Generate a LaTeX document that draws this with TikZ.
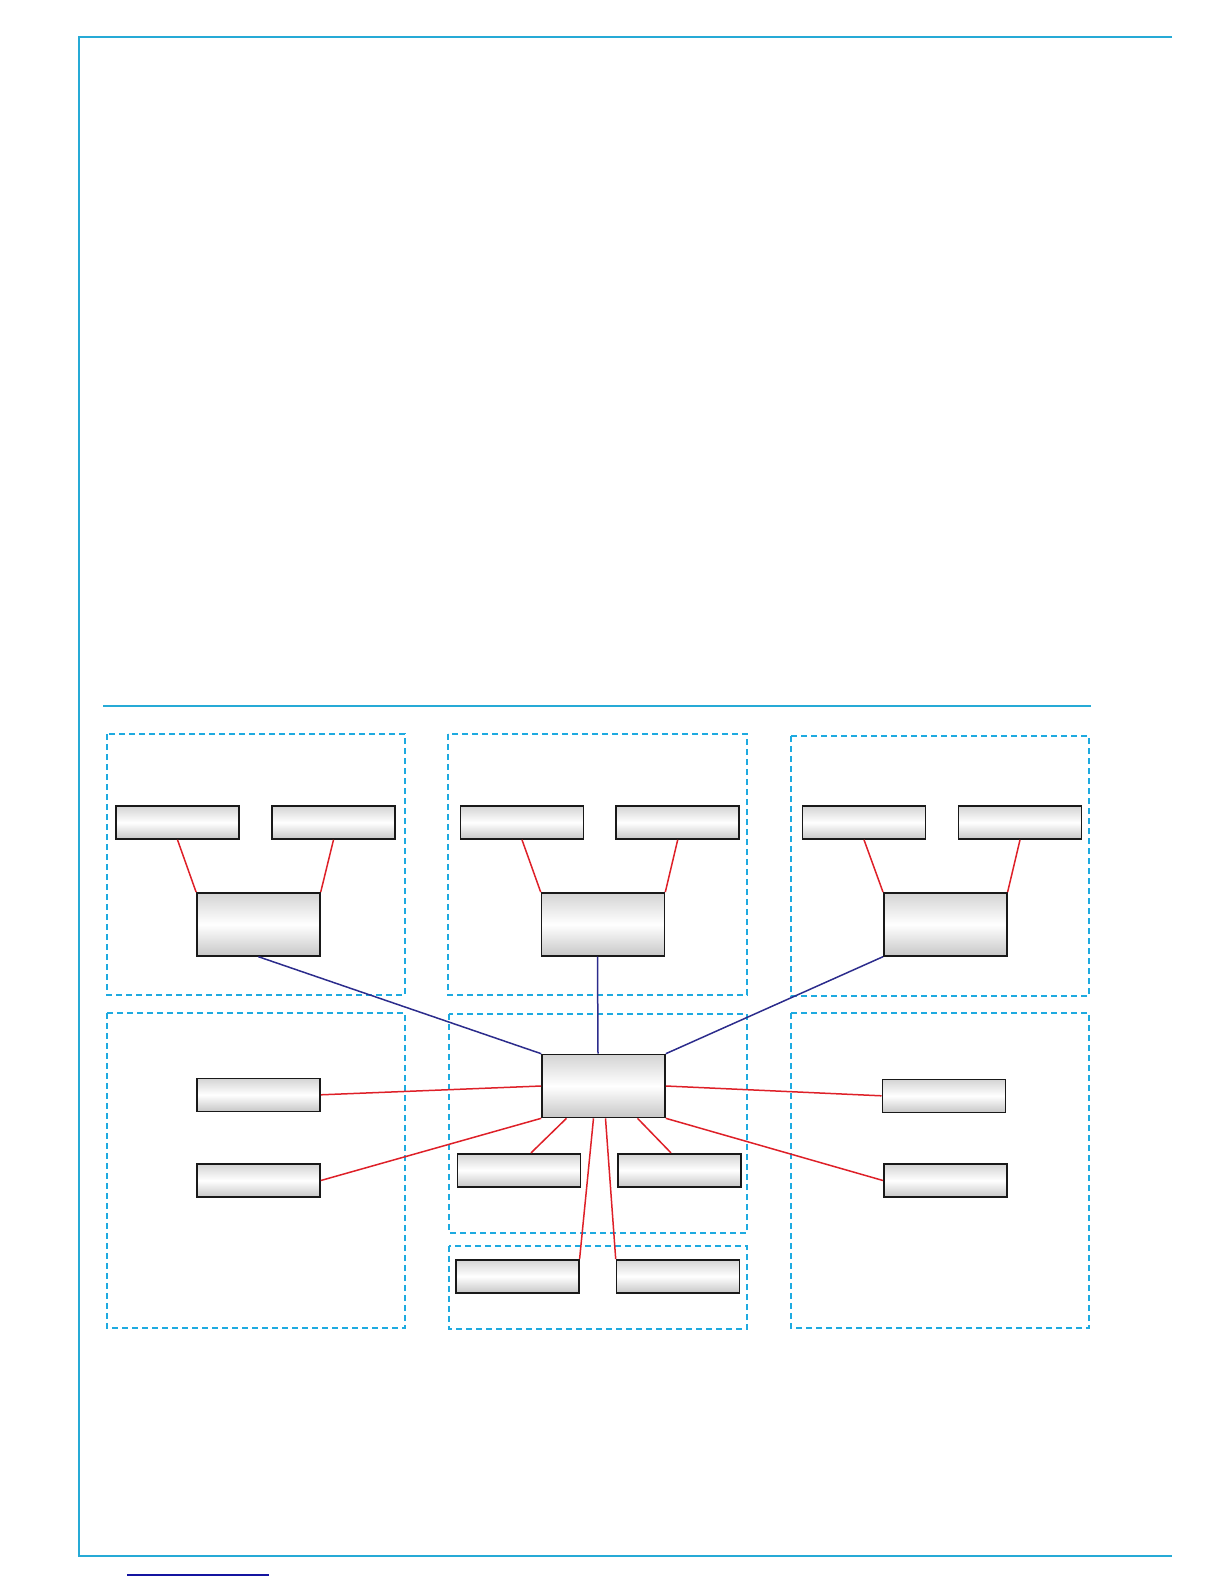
\documentclass[tikz,border=0pt]{standalone}
\usepackage{tikz}
\usepackage{xcolor}
\usetikzlibrary{calc}
\definecolor{framecyan}{RGB}{38,170,214}
\definecolor{zonecyan}{RGB}{30,170,224}
\definecolor{linkred}{RGB}{222,32,40}
\definecolor{linknavy}{RGB}{44,44,140}
\definecolor{underblue}{RGB}{20,20,160}
\tikzset{
  box/.style={draw=black!90,line width=1.6pt,top color=black!17,bottom color=black!22,middle color=white,minimum width=123pt,minimum height=33pt,inner sep=0pt},
  bigbox/.style={box,minimum height=63pt},
  zone/.style={draw=zonecyan,line width=1.4pt,dash pattern=on 6pt off 4pt},
  redlink/.style={draw=linkred,line width=1.5pt},
  navylink/.style={draw=linknavy,line width=1.5pt}
}

\begin{document}
\begin{tikzpicture}[x=1pt,y=-1pt]
  \useasboundingbox (0,0) rectangle (1224,1584);
  % page frame
  \draw[framecyan,line width=1.3pt] (1172,37) -- (79,37) -- (79,1556) -- (1172,1556);
  \draw[framecyan,line width=1.1pt] (103,706) -- (1091,706);
  \draw[underblue,line width=1.3pt] (127,1575) -- (269,1575);
  % zones
  \draw[zone] (107,734) rectangle (405,995);
  \draw[zone] (448,734) rectangle (747,995);
  \draw[zone] (791,736) rectangle (1089,996);
  \draw[zone] (107,1013) rectangle (405,1328);
  \draw[zone] (449,1014) rectangle (747,1233);
  \draw[zone] (449,1246) rectangle (747,1329);
  \draw[zone] (791,1013) rectangle (1089,1328);
  % top groups
  \node[box] (lta) at (177.5,822.5) {};
  \node[box] (ltb) at (333.5,822.5) {};
  \node[bigbox] (ltm) at (258.4,924.4) {};
  \node[box] (mta) at (522,822.5) {};
  \node[box] (mtb) at (677.7,822.5) {};
  \node[bigbox] (mtm) at (603,924.4) {};
  \node[box] (rta) at (864,822.5) {};
  \node[box] (rtb) at (1020,822.5) {};
  \node[bigbox] (rtm) at (945.3,924.4) {};
  % hub and outer boxes
  \node[bigbox] (hub) at (603.5,1086) {};
  \node[box] (lba) at (258.5,1094.8) {};
  \node[box] (lbb) at (258.5,1180.5) {};
  \node[box] (rba) at (943.8,1095.8) {};
  \node[box] (rbb) at (945.3,1180.5) {};
  \node[box] (mba) at (519,1170.2) {};
  \node[box] (mbb) at (679.5,1170.2) {};
  \node[box] (bta) at (517.3,1276.3) {};
  \node[box] (btb) at (678,1276.3) {};
  % links
  \draw[redlink] (lta.south) -- (ltm.north west);
  \draw[redlink] (ltb.south) -- (ltm.north east);
  \draw[redlink] (mta.south) -- (mtm.north west);
  \draw[redlink] (mtb.south) -- (mtm.north east);
  \draw[redlink] (rta.south) -- (rtm.north west);
  \draw[redlink] (rtb.south) -- (rtm.north east);
  \draw[navylink] (ltm.south) -- (hub.north west);
  \draw[navylink] ([xshift=-5.5pt]mtm.south) -- ([xshift=-5.5pt]hub.north);
  \draw[navylink] (rtm.south west) -- (hub.north east);
  \draw[redlink] (hub.west) -- (lba.east);
  \draw[redlink] (hub.south west) -- (lbb.east);
  \draw[redlink] (hub.east) -- (rba.west);
  \draw[redlink] (hub.south east) -- (rbb.west);
  \draw[redlink] ([xshift=-37pt]hub.south) -- ([xshift=12pt]mba.north);
  \draw[redlink] ([xshift=34pt]hub.south) -- ([xshift=-8.5pt]mbb.north);
  \draw[redlink] ([xshift=-10pt]hub.south) -- (bta.north east);
  \draw[redlink] ([xshift=2pt]hub.south) -- (btb.north west);
\end{tikzpicture}
\end{document}
